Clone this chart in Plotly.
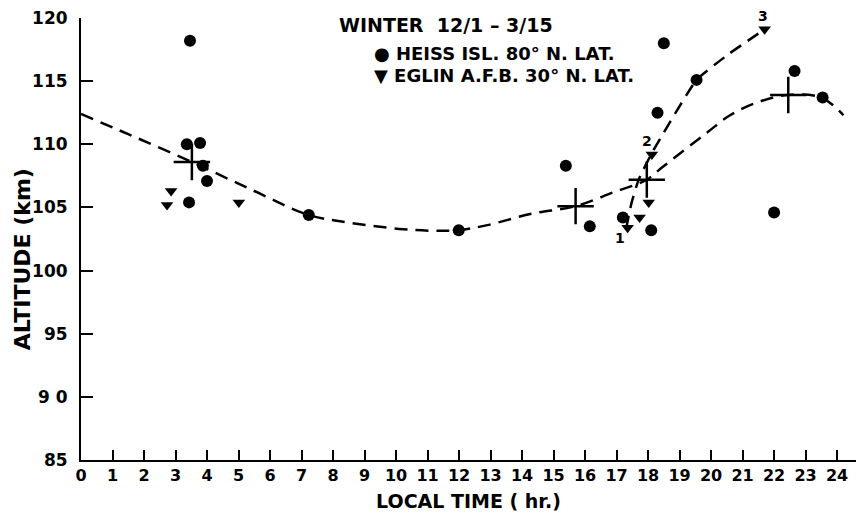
import plotly.graph_objects as go

# ---- data ----
heiss_time = [3.46, 3.36, 3.78, 3.87, 4.0, 3.43, 7.23, 11.99, 15.39, 16.15, 17.2, 18.1, 18.3, 18.5, 19.54, 22.0, 22.65, 23.54]
heiss_alt = [118.2, 110.0, 110.1, 108.3, 107.1, 105.4, 104.4, 103.2, 108.3, 103.5, 104.2, 103.2, 112.5, 118.0, 115.1, 104.6, 115.8, 113.7]

eglin_time = [2.86, 2.73, 5.01, 17.35, 17.73, 18.02, 18.12, 21.7]
eglin_alt = [106.3, 105.2, 105.4, 103.4, 104.2, 105.4, 109.2, 119.1]

mean_time = [3.52, 15.7, 17.96, 22.45]
mean_alt = [108.6, 105.1, 107.2, 113.9]

curve_time = [0, 1.5, 3.52, 5.5, 7.23, 8.5, 10.1, 11.2, 12.0, 12.9, 14.3, 15.7, 16.9, 17.96, 18.46, 19.86, 20.6, 21.45, 22.43, 23.5, 24.2]
curve_alt = [112.4, 110.8, 108.6, 106.3, 104.4, 103.8, 103.3, 103.15, 103.2, 103.6, 104.5, 105.1, 106.2, 107.2, 108.2, 110.9, 112.3, 113.3, 113.9, 113.7, 112.3]

steep_time = [17.3, 17.48, 17.7, 18.12, 19.54, 20.59, 21.64]
steep_alt = [103.3, 105.4, 107.2, 109.3, 115.1, 117.2, 119.0]

seq_labels = ["1", "2", "3"]
seq_time = [17.1, 17.96, 21.64]
seq_alt = [102.6, 110.3, 119.9]

x_ticks = [0, 1, 2, 3, 4, 5, 6, 7, 8, 9, 10, 11, 12, 13, 14, 15, 16, 17, 18, 19, 20, 21, 22, 23, 24]
y_ticks = [85, 90, 95, 100, 105, 110, 115, 120]
y_tick_labels = ["85", "9 0", "95", "100", "105", "110", "115", "120"]

title_text = "WINTER  12/1 – 3/15"
heiss_label = "● HEISS ISL. 80° N. LAT."
eglin_label = "▼ EGLIN A.F.B. 30° N. LAT."

FONT = "DejaVu Sans"
BLACK = "black"

fig = go.Figure()

fig.add_trace(go.Scatter(x=curve_time, y=curve_alt, mode="lines", line=dict(color=BLACK, width=2.5, dash="13px,8px", shape="spline", smoothing=1.0), showlegend=False, cliponaxis=False))
fig.add_trace(go.Scatter(x=steep_time, y=steep_alt, mode="lines", line=dict(color=BLACK, width=2.5, dash="13px,8px", shape="spline", smoothing=0.4), showlegend=False, cliponaxis=False))
fig.add_trace(go.Scatter(x=heiss_time, y=heiss_alt, mode="markers", marker=dict(symbol="circle", size=12, color=BLACK), showlegend=False, cliponaxis=False))
fig.add_trace(go.Scatter(x=eglin_time, y=eglin_alt, mode="markers", marker=dict(symbol="triangle-down", size=11, color=BLACK), showlegend=False, cliponaxis=False))
fig.add_trace(go.Scatter(x=mean_time, y=mean_alt, mode="markers", marker=dict(symbol="cross-thin", size=26, color=BLACK, line=dict(color=BLACK, width=2.5)), showlegend=False, cliponaxis=False))

for lab, xt, ya in zip(seq_labels, seq_time, seq_alt):
    fig.add_annotation(x=xt, y=ya, text=lab, showarrow=False, font=dict(family=FONT, size=14, color=BLACK, weight="bold"), xanchor="center", yanchor="middle",
                       yshift=(3 if lab == "3" else 0))

fig.add_annotation(x=8.12, y=119.45, text=title_text, showarrow=False, xanchor="left", yanchor="middle", font=dict(family=FONT, size=19, color=BLACK, weight="bold"))
fig.add_annotation(x=9.25, y=117.2, text=heiss_label, showarrow=False, xanchor="left", yanchor="middle", font=dict(family=FONT, size=18, color=BLACK, weight="bold"))
fig.add_annotation(x=9.25, y=115.45, text=eglin_label, showarrow=False, xanchor="left", yanchor="middle", font=dict(family=FONT, size=18, color=BLACK, weight="bold"))

# y-axis title placed as rotated text
fig.add_annotation(xref="paper", x=0, xshift=-59, y=100.9, text="ALTITUDE (km)", textangle=-90, showarrow=False, xanchor="center", yanchor="middle",
                   font=dict(family=FONT, size=22, color=BLACK, weight="bold"))

fig.update_xaxes(range=[0, 24.6], tickvals=x_ticks, ticktext=[str(v) for v in x_ticks], ticks="inside", ticklen=10, tickwidth=2, tickcolor=BLACK,
                 showline=True, linecolor=BLACK, linewidth=2, showgrid=False, zeroline=False,
                 tickfont=dict(family=FONT, size=16, color=BLACK, weight="bold"),
                 title=dict(text="LOCAL TIME ( hr.)", font=dict(family=FONT, size=19, color=BLACK, weight="bold"), standoff=10))
fig.update_yaxes(range=[85, 120], tickvals=y_ticks, ticktext=y_tick_labels, ticks="inside", ticklen=12, tickwidth=2, tickcolor=BLACK,
                 showline=True, linecolor=BLACK, linewidth=2, showgrid=False, zeroline=False, ticklabelstandoff=8,
                 tickfont=dict(family=FONT, size=17, color=BLACK, weight="bold"))

fig.update_layout(width=861, height=514, margin=dict(l=81, r=5, t=18, b=54), plot_bgcolor="white", paper_bgcolor="white", showlegend=False)

fig.write_html("out.html")
